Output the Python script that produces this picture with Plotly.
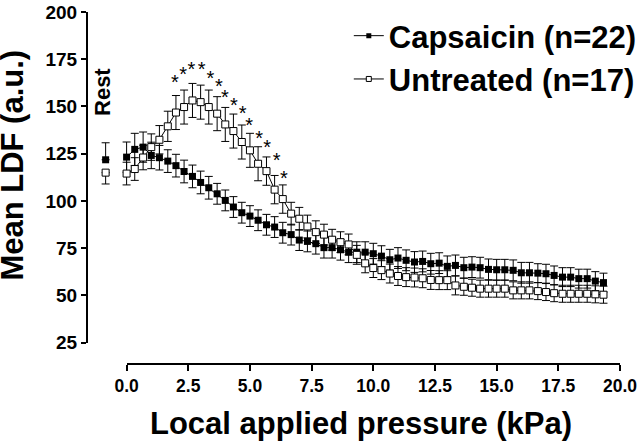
import plotly.graph_objects as go

# ---------------- data ----------------
pressure = [0.0, 0.33, 0.67, 1.0, 1.33, 1.67, 2.0, 2.33, 2.67, 3.0,
            3.33, 3.67, 4.0, 4.33, 4.67, 5.0, 5.33, 5.67, 6.0, 6.33,
            6.67, 7.0, 7.33, 7.67, 8.0, 8.33, 8.67, 9.0, 9.33, 9.67,
            10.0, 10.33, 10.67, 11.0, 11.33, 11.67, 12.0, 12.33, 12.67, 13.0,
            13.33, 13.67, 14.0, 14.33, 14.67, 15.0, 15.33, 15.67, 16.0, 16.33,
            16.67, 17.0, 17.33, 17.67, 18.0, 18.33, 18.67, 19.0, 19.33]

capsaicin = [123.2, 127.3, 128.5, 124.1, 122.9, 121.1, 118.7, 115.6, 113.0, 109.8,
             107.0, 103.8, 100.3, 96.8, 93.8, 92.0, 89.8, 87.4, 86.2, 83.2,
             82.2, 79.3, 78.6, 77.4, 75.3, 75.3, 74.2, 72.9, 72.9, 72.9,
             72.1, 70.8, 68.9, 69.8, 68.6, 67.7, 68.0, 66.8, 67.1, 65.4,
             65.9, 64.7, 65.0, 64.7, 63.8, 63.6, 63.6, 63.3, 62.0, 62.0,
             61.8, 61.5, 60.6, 59.7, 59.7, 58.9, 58.9, 57.6, 56.8]
capsaicin_err = [8.0, 8.5, 8.0, 7.0, 6.5, 6.0, 6.0, 6.0, 6.0, 6.0,
                 6.0, 5.5, 5.5, 5.5, 5.5, 5.5, 5.5, 5.5, 5.5, 5.5,
                 5.5, 5.5, 5.5, 5.5, 5.5, 5.5, 5.5, 5.5, 5.5, 5.5,
                 5.5, 5.5, 5.5, 5.5, 5.5, 5.5, 5.5, 5.5, 5.5, 5.5,
                 5.5, 5.5, 5.5, 5.5, 5.5, 5.5, 5.5, 5.5, 5.5, 5.5,
                 5.0, 5.0, 5.0, 5.0, 5.0, 5.0, 5.0, 5.0, 5.0]

untreated = [114.5, 116.9, 123.0, 128.5, 132.4, 139.5, 146.8, 149.7, 153.2, 152.3,
             149.7, 146.2, 140.5, 137.0, 131.2, 126.8, 119.7, 115.8, 106.0, 101.0,
             93.3, 90.6, 86.5, 83.5, 82.2, 79.5, 78.2, 77.0, 71.5, 67.0,
             64.5, 63.4, 61.6, 60.3, 59.7, 59.5, 59.1, 58.2, 58.1, 58.1,
             55.3, 54.6, 54.1, 53.6, 53.6, 53.6, 53.6, 52.7, 52.7, 52.7,
             52.3, 51.8, 51.2, 50.9, 50.9, 50.9, 50.9, 50.6, 50.4]
untreated_err = [6.0, 6.0, 6.5, 7.0, 7.5, 8.0, 9.0, 9.0, 9.0, 9.0,
                 9.0, 9.0, 9.0, 9.0, 9.0, 9.0, 9.0, 7.5, 7.5, 7.5,
                 6.0, 6.0, 6.0, 6.0, 5.5, 5.5, 5.5, 5.5, 5.0, 5.0,
                 5.0, 5.0, 5.0, 5.0, 5.0, 5.0, 5.0, 5.0, 5.0, 5.0,
                 5.0, 4.5, 4.5, 4.5, 4.5, 4.5, 4.5, 4.5, 4.5, 4.5,
                 4.5, 4.5, 4.5, 4.5, 4.5, 4.5, 4.5, 4.5, 4.5]

rest_x = [-0.85]
rest_capsaicin = [121.8]
rest_capsaicin_err = [9.0]
rest_untreated = [115.0]
rest_untreated_err = [6.0]

star_x = [1.96, 2.29, 2.63, 3.04, 3.40, 3.74, 3.98, 4.35, 4.70, 4.97, 5.37, 5.70, 6.08, 6.38]
star_y = [161.9, 166.0, 168.6, 168.6, 164.2, 159.8, 154.1, 149.6, 145.7, 139.0, 132.4, 127.7, 120.5, 111.3]

x_ticks = [0, 2.5, 5, 7.5, 10, 12.5, 15, 17.5, 20]
x_ticktext = ["0.0", "2.5", "5.0", "7.5", "10.0", "12.5", "15.0", "17.5", "20.0"]
y_ticks = [25, 50, 75, 100, 125, 150, 175, 200]

series_names = ["Capsaicin (n=22)", "Untreated (n=17)"]

FONT = "Liberation Sans"

fig = go.Figure()

err_style = dict(type="data", color="black", thickness=1, width=4, visible=True)

# Capsaicin
fig.add_trace(go.Scatter(
    x=pressure, y=capsaicin, mode="lines+markers", showlegend=False,
    line=dict(color="black", width=1),
    marker=dict(symbol="square", size=7, color="black"),
    error_y=dict(array=capsaicin_err, **err_style)))
# Untreated
fig.add_trace(go.Scatter(
    x=pressure, y=untreated, mode="lines+markers", showlegend=False,
    line=dict(color="black", width=1),
    marker=dict(symbol="square", size=7, color="white", line=dict(color="black", width=1)),
    error_y=dict(array=untreated_err, **err_style)))
# Rest points
fig.add_trace(go.Scatter(
    x=rest_x, y=rest_capsaicin, mode="markers", showlegend=False,
    marker=dict(symbol="square", size=7, color="black"),
    error_y=dict(array=rest_capsaicin_err, symmetric=False, arrayminus=[0], **err_style)))
fig.add_trace(go.Scatter(
    x=rest_x, y=rest_untreated, mode="markers", showlegend=False,
    marker=dict(symbol="square", size=7, color="white", line=dict(color="black", width=1)),
    error_y=dict(array=[0], symmetric=False, arrayminus=rest_untreated_err, **err_style)))
# Asterisks
fig.add_trace(go.Scatter(
    x=star_x, y=star_y, mode="text", text=["*"] * len(star_x), showlegend=False,
    textposition="middle center",
    textfont=dict(family=FONT, size=20, color="black")))

# Legend entries
fig.add_trace(go.Scatter(
    x=[None], y=[None], mode="lines+markers", name=series_names[0],
    line=dict(color="black", width=1),
    marker=dict(symbol="square", size=5, color="black")))
fig.add_trace(go.Scatter(
    x=[None], y=[None], mode="lines+markers", name=series_names[1],
    line=dict(color="black", width=1),
    marker=dict(symbol="square", size=5, color="white", line=dict(color="black", width=1))))

# Dummy trace for the visible (offset) axes
fig.add_trace(go.Scatter(x=[None], y=[None], xaxis="x2", yaxis="y2",
                         showlegend=False, hoverinfo="skip"))

xtickfont = dict(family=FONT, size=17.5, color="black", weight="bold")
ytickfont = dict(family=FONT, size=19, color="black", weight="bold")

fig.update_layout(
    width=640, height=443, autosize=False,
    margin=dict(l=87, r=20, t=12, b=79, autoexpand=False),
    paper_bgcolor="white", plot_bgcolor="rgba(0,0,0,0)",
    font=dict(family=FONT, color="black"),
    xaxis=dict(domain=[0, 1], range=[-1.605, 20], visible=False),
    yaxis=dict(domain=[0, 1], range=[13.73, 200], visible=False),
    xaxis2=dict(domain=[0.0743, 1], range=[0, 20], anchor="free", position=0,
                tickmode="array", tickvals=x_ticks, ticktext=x_ticktext,
                showline=True, linecolor="black", linewidth=2,
                ticks="outside", ticklen=6, tickwidth=2, tickcolor="black",
                showgrid=False, zeroline=False, tickfont=xtickfont),
    yaxis2=dict(domain=[0.0605, 1], range=[25, 200], anchor="free", position=0,
                tickmode="array", tickvals=y_ticks,
                showline=True, linecolor="black", linewidth=2,
                ticks="outside", ticklen=5, tickwidth=2, tickcolor="black",
                showgrid=False, zeroline=False, tickfont=ytickfont),
    legend=dict(x=0.4912, y=1.0085, xanchor="left", yanchor="top",
                bgcolor="rgba(0,0,0,0)",
                font=dict(family=FONT, size=31, color="black", weight="bold")),
    annotations=[
        dict(text="Mean LDF (a.u.)", textangle=-90, xref="paper", yref="paper",
             x=-0.1398, y=0.565, xanchor="center", yanchor="middle", showarrow=False,
             font=dict(family=FONT, size=31, color="black", weight="bold")),
        dict(text="Local applied pressure (kPa)", xref="paper", yref="paper",
             x=0.514, y=-0.170, xanchor="center", yanchor="middle", showarrow=False,
             font=dict(family=FONT, size=31, color="black", weight="bold")),
        dict(text="Rest", textangle=-90, xref="paper", yref="paper",
             x=0.0281, y=0.7727, xanchor="center", yanchor="middle", showarrow=False,
             font=dict(family=FONT, size=22, color="black", weight="bold")),
    ],
)

fig.write_html("out.html", config={"displayModeBar": False},
               post_script="document.body.style.margin='0';")
